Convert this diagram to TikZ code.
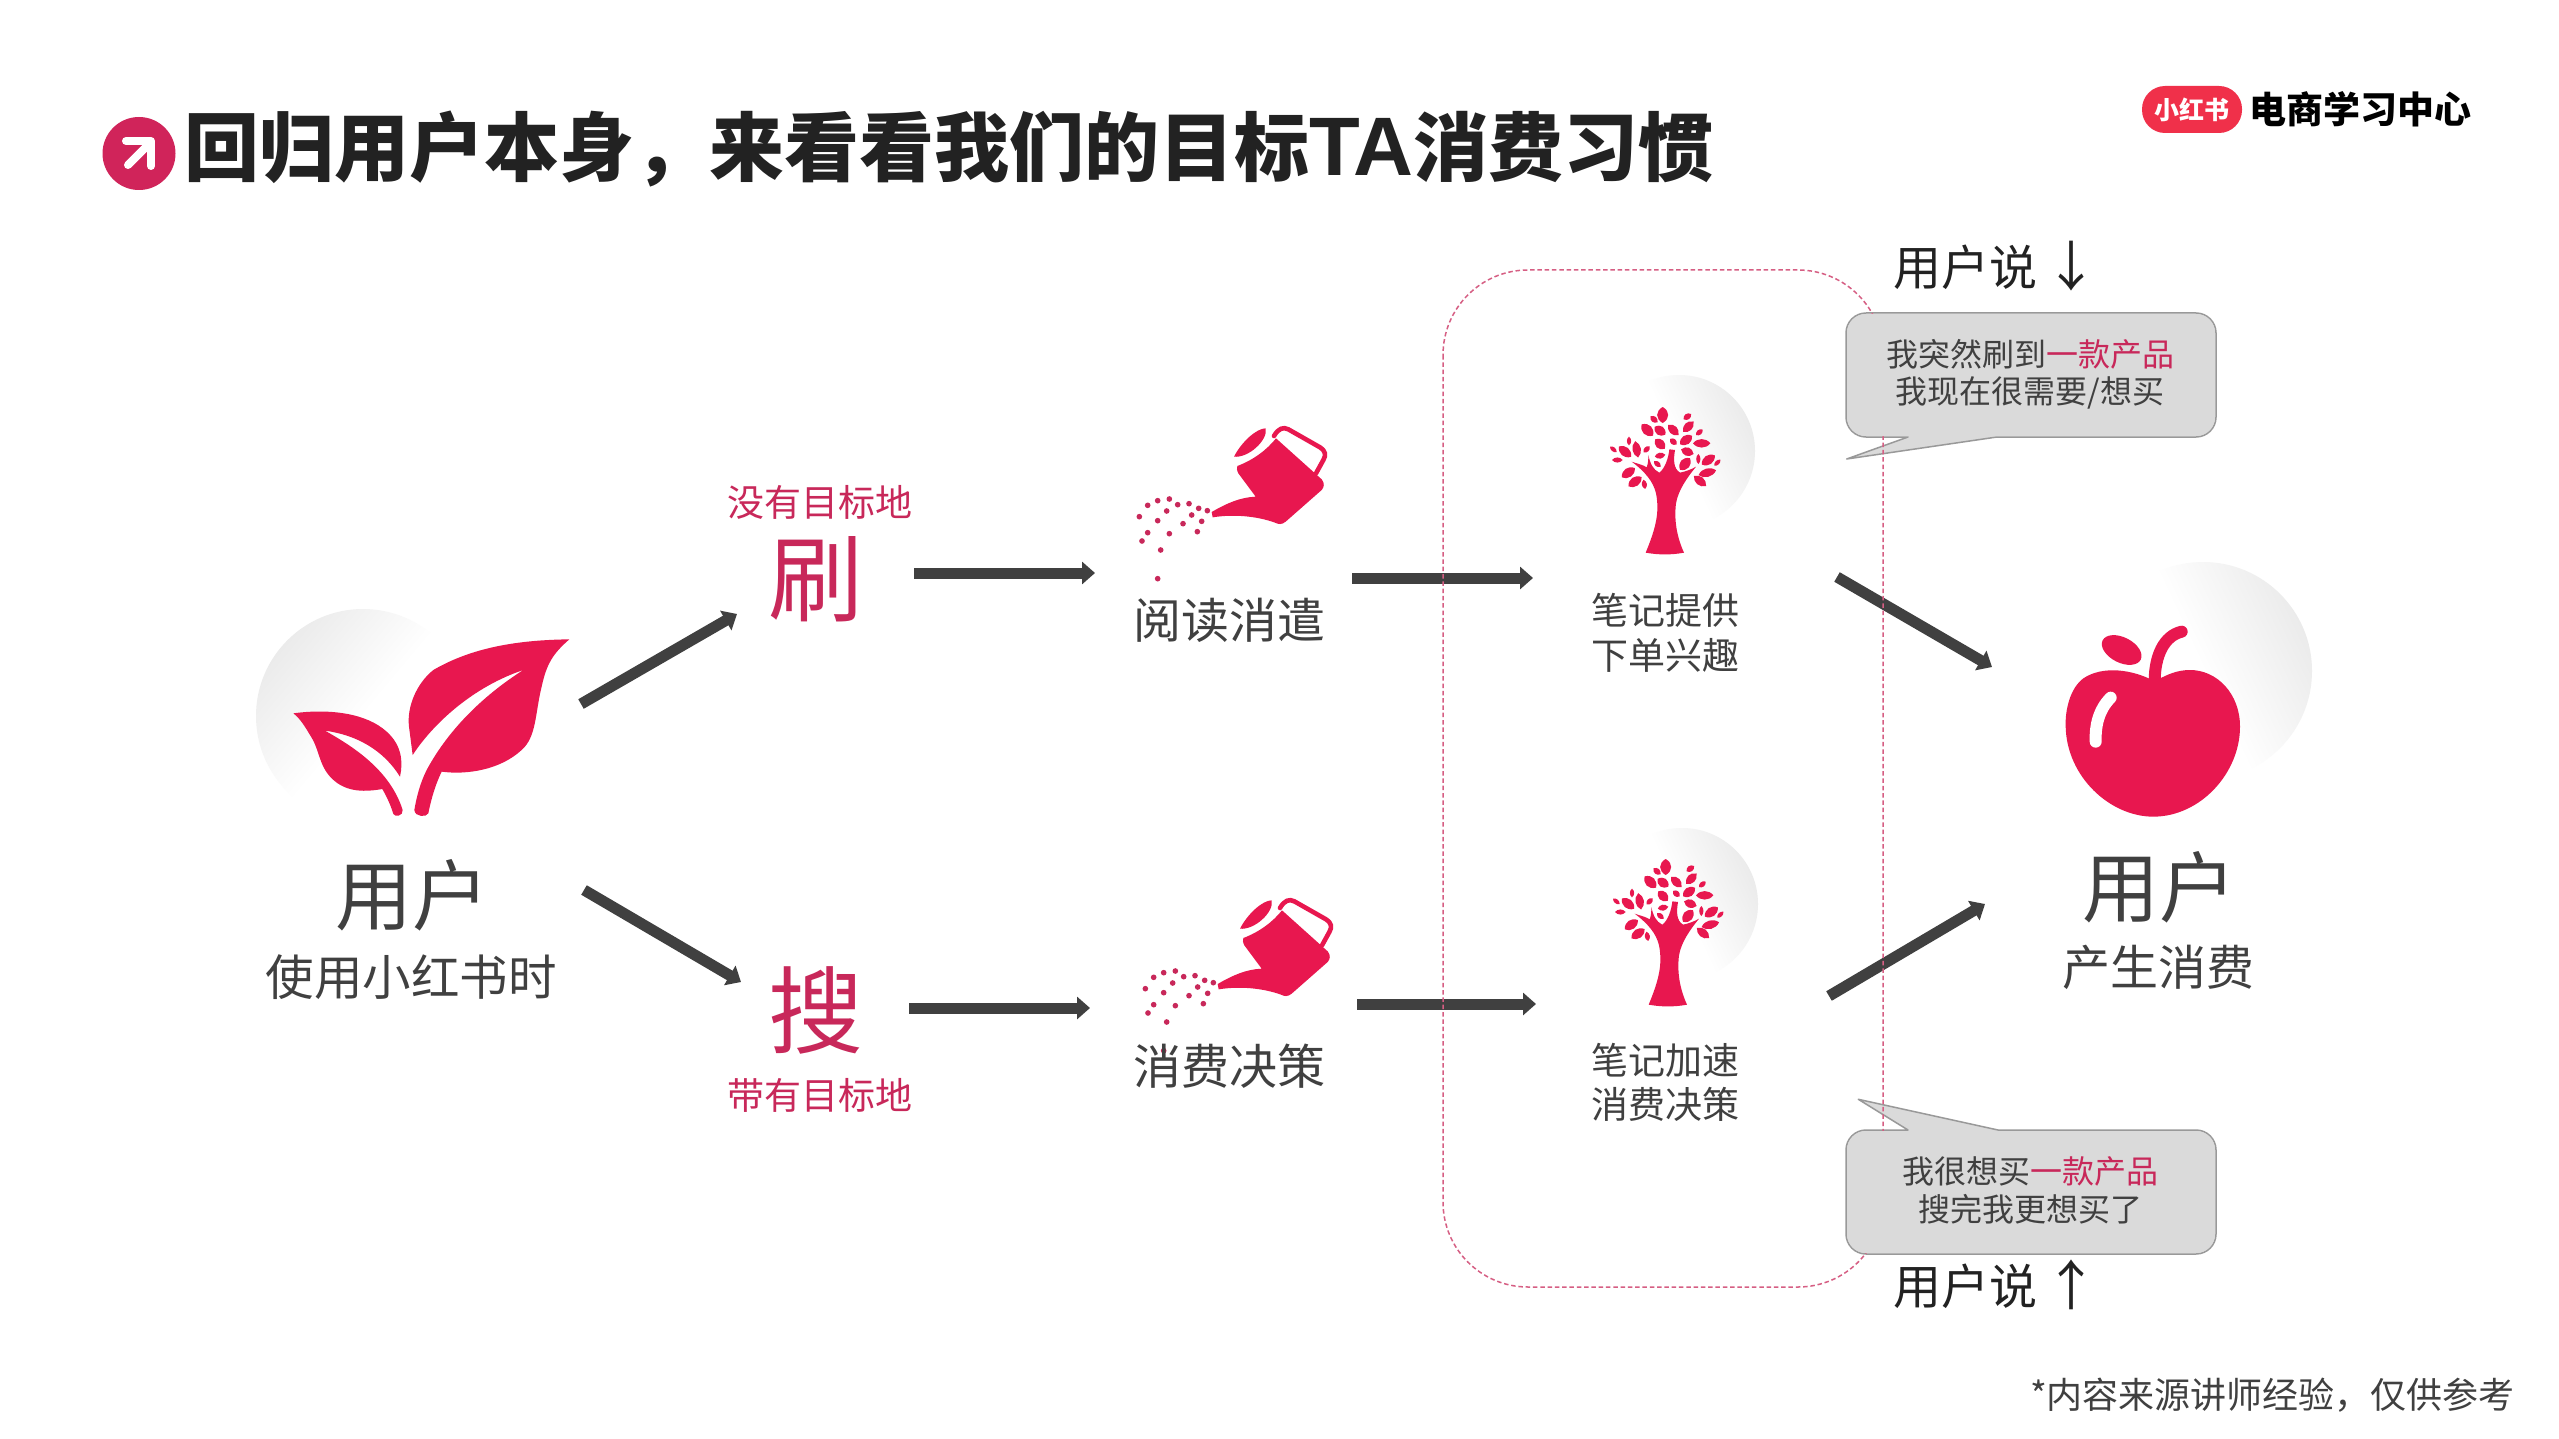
\documentclass[tikz,border=0pt]{standalone}
\usepackage{fontspec}
\setmainfont{Noto Sans CJK SC}
\newfontfamily\latinbold{Liberation Sans}
\usetikzlibrary{arrows.meta}
\definecolor{rosefill}{HTML}{E8174F}
\definecolor{rosetext}{HTML}{C8285A}
\definecolor{titlerose}{HTML}{D0245A}
\definecolor{inkdark}{HTML}{404040}
\definecolor{titleink}{HTML}{222222}
\definecolor{bubblefill}{HTML}{DADADA}
\definecolor{bubbleedge}{HTML}{999999}
\definecolor{disk}{HTML}{EBEBEB}
\definecolor{pill}{HTML}{F0304A}
\newcommand{\fsz}[1]{\fontsize{#1pt}{#1pt}\selectfont}
\tikzset{
  txt/.style={inner sep=0pt,outer sep=0pt,text=inkdark},
  pinktxt/.style={inner sep=0pt,outer sep=0pt,text=rosetext},
  bigarrow/.style={draw=inkdark,line width=11pt,-{Triangle[length=13pt,width=22pt]}},
  softdisk/.style={top color=disk,bottom color=white,middle color=white,shading angle=#1},
  dashbox/.style={draw=rosetext!75,line width=1.5pt,dash pattern=on 4.5pt off 2.8pt},
  bubble/.style={fill=bubblefill,draw=bubbleedge,line width=1.5pt,line join=round},
}
% watering can, drawn in 3x crop units from its crop origin
\newcommand{\wateringcan}[2]{%
\begin{scope}[shift={(#1,#2)},x=0.33333pt,y=-0.33333pt]
  \fill[rosefill] (342,140) .. controls (365,95) and (410,55) .. (437,55) .. controls (445,90) and (385,145) .. (342,140) -- cycle;
  \fill[rosefill] (352,168) .. controls (400,150) and (440,120) .. (468,85) -- (605,208) .. controls (615,220) and (612,232) .. (605,240) -- (497,335) .. controls (485,345) and (475,343) .. (465,338) .. controls (410,318) and (340,312) .. (278,322) -- (275,306) .. controls (320,280) and (360,262) .. (407,260) -- (355,190) .. controls (350,180) and (350,175) .. (352,168) -- cycle;
  \draw[rosefill,line width=4.6pt,line cap=round,line join=round] (462,78) .. controls (475,55) and (490,50) .. (505,58) -- (600,112) .. controls (618,125) and (618,135) .. (610,150) -- (588,190);
  \foreach \dx/\dy in {83/286,113/272,148/267,173/284,207/281,236/295,262/302,140/303,215/315,245/334,58/320,113/332,189/341,83/368,148/371,232/365,66/393,122/420,113/506}
    \fill[rosetext] (\dx,\dy) circle[radius=8.5];
\end{scope}}
% tree with foliage
\newcommand{\foliage}[2]{%
\begin{scope}[shift={(#1,#2)},x=0.33333pt,y=-0.33333pt]
  \fill[rosefill] (197,578) .. controls (225,510) and (240,460) .. (228,400) .. controls (220,365) and (195,335) .. (155,305) .. controls (175,312) and (190,315) .. (200,322) .. controls (205,310) and (205,295) .. (205,285) .. controls (210,310) and (220,330) .. (238,338) .. controls (255,325) and (265,295) .. (268,268) -- (285,270) .. controls (280,300) and (280,325) .. (300,338) .. controls (315,335) and (335,328) .. (348,320) .. controls (320,355) and (295,390) .. (288,430) .. controls (282,480) and (290,530) .. (312,578) .. controls (275,585) and (235,585) .. (197,578) -- cycle;
  \foreach \cx/\cy/\ang/\hl/\hw in {248/165/90/24/13,222/178/-40/14/7,322/170/35/14/7,202/210/-45/24/12,240/212/-35/20/11,280/210/-45/22/10,325/200/45/22/10,358/217/40/13/6,318/240/35/22/11,365/250/0/26/10,280/245/-40/13/7,240/252/-45/20/11,322/275/-20/20/10,135/275/-40/24/11,170/268/-80/25/10,200/268/45/13/6,147/243/90/13/5,100/268/-40/13/5,112/300/0/16/6,240/287/10/16/7,232/312/-40/13/6,145/338/35/24/11,165/365/35/24/11,193/373/-80/14/6,315/312/50/23/12,355/297/-90/15/5,385/300/35/24/11,412/308/45/13/5,382/338/15/27/10,360/363/-40/24/10}
    \fill[rosefill,shift={(\cx,\cy)},rotate=\ang] (-\hl,0) .. controls (-\hl/2,\hw*1.7) and (\hl/2,\hw*1.7) .. (\hl,0) .. controls (\hl/2,-\hw*1.7) and (-\hl/2,-\hw*1.7) .. (-\hl,0) -- cycle;
\end{scope}}
\begin{document}
\begin{tikzpicture}[x=1pt,y=-1pt]
\useasboundingbox (0,0) rectangle (2559,1439);
\fill[white] (0,0) rectangle (2559,1439);

% title
\fill[titlerose] (139,153.5) circle[radius=36.5];
\draw[white,line width=8pt,line cap=round,line join=round] (126,141) -- (151,141) -- (151,166);
\draw[white,line width=8pt,line cap=round] (128,165) -- (149,144);
\node[inner sep=0pt,anchor=west,text=titleink] (title) at (184,149) {\fsz{75}\bfseries 回归用户本身，来看看我们的目标{\latinbold\fsz{83}TA}消费习惯};

% logo
\node[fill=pill,rounded corners=23pt,minimum width=100pt,minimum height=47pt,inner sep=0pt,text=white] (logo) at (2192,109.5) {\fsz{25}\bfseries 小红书};
\node[inner sep=0pt,anchor=west,text=black] (logotext) at (2249,109) {\fsz{37}\bfseries 电商学习中心};

% background disks
\shade[softdisk=50] (363,716) circle[radius=107];
\shade[softdisk=-65] (1679,451) circle[radius=76];
\shade[softdisk=-65] (1682,904) circle[radius=76];
\shade[softdisk=-65] (2203,671) circle[radius=109];

% sprout icon
\begin{scope}[shift={(220,580)},x=0.33333pt,y=-0.33333pt]
  \fill[rosefill] (1048,178) .. controls (900,180) and (760,200) .. (640,270) .. controls (590,310) and (560,380) .. (567,440) -- (578,525) .. controls (640,430) and (760,320) .. (910,270) .. controls (800,340) and (690,440) .. (620,570) .. controls (600,610) and (590,650) .. (583,690) .. controls (585,712) and (620,712) .. (625,700) .. controls (635,650) and (648,610) .. (665,575) .. controls (740,585) and (840,570) .. (905,510) .. controls (950,470) and (945,400) .. (965,320) .. controls (980,250) and (1000,220) .. (1048,178) -- cycle;
  \fill[rosefill] (220,400) .. controls (330,385) and (440,400) .. (500,455) .. controls (545,495) and (550,545) .. (540,590) .. controls (490,510) and (410,465) .. (315,452) .. controls (400,500) and (510,570) .. (548,690) .. controls (550,708) and (525,712) .. (520,702) .. controls (512,675) and (500,650) .. (487,627) .. controls (440,635) and (380,640) .. (335,595) .. controls (295,555) and (300,510) .. (270,465) .. controls (255,440) and (240,415) .. (220,400) -- cycle;
\end{scope}

\wateringcan{1120}{410}
\wateringcan{1126}{882}
\foliage{1580}{360}
\foliage{1583}{812}

% apple icon
\begin{scope}[shift={(2020,550)},x=0.33333pt,y=-0.33333pt]
  \fill[rosefill] (400,392) .. controls (340,360) and (250,345) .. (190,385) .. controls (150,415) and (135,480) .. (137,530) .. controls (140,680) and (270,800) .. (400,800) .. controls (540,800) and (660,670) .. (660,530) .. controls (660,430) and (590,360) .. (510,360) .. controls (470,360) and (440,375) .. (415,388) -- cycle;
  \draw[rosefill,line width=12pt,line cap=round] (404,390) .. controls (405,320) and (430,258) .. (485,245);
  \fill[rosefill,rotate around={-27:(305,300)}] (305,300) ellipse[x radius=64,y radius=38];
  \draw[white,line width=12pt,line cap=round] (272,443) .. controls (235,480) and (225,530) .. (227,575);
\end{scope}

% connectors
\coordinate (a1s) at (581,704); \coordinate (a1e) at (737,614);
\coordinate (a2s) at (584,890); \coordinate (a2e) at (741,982);
\coordinate (a3s) at (914,573); \coordinate (a3e) at (1095,573);
\coordinate (a4s) at (909,1008); \coordinate (a4e) at (1090,1008);
\coordinate (a5s) at (1352,578); \coordinate (a5e) at (1533,578);
\coordinate (a6s) at (1357,1004); \coordinate (a6e) at (1536,1004);
\coordinate (a7s) at (1837,577); \coordinate (a7e) at (1992,667);
\coordinate (a8s) at (1829,996); \coordinate (a8e) at (1985,904);
\foreach \n in {1,...,8} \draw[bigarrow] (a\n s) -- (a\n e);

% dashed enclosure and speech bubbles
\path[bubble,rounded corners=20pt] (1846,375) -- (1846,313) -- (2216,313) -- (2216,437) -- (2050,437) [sharp corners] -- (1997,437) -- (1846.7,459) -- (1908,437) -- (1885,437) [rounded corners=20pt] -- (1846,437) -- cycle;
\path[bubble,rounded corners=20pt] (1846,1190) -- (1846,1130) -- (1885,1130) [sharp corners] -- (1908,1130) -- (1858.3,1099.3) -- (1998,1130) -- (2050,1130) [rounded corners=20pt] -- (2216,1130) -- (2216,1254) -- (1846,1254) -- cycle;
\draw[dashbox,rounded corners=85pt] (1443,270) rectangle (1883,1287);
\fill[bubblefill,rounded corners=19pt] (1847,314) rectangle (2215,436);
\fill[bubblefill,rounded corners=19pt] (1847,1131) rectangle (2215,1253);

% bubble texts
\node[txt] (say1a) at (2030,354) {\fsz{32}我突然刷到\textcolor{rosetext}{一款产品}};
\node[txt] (say1b) at (2030,393) {\fsz{32}我现在很需要/想买};
\node[txt] (say2a) at (2030,1171) {\fsz{32}我很想买\textcolor{rosetext}{一款产品}};
\node[txt] (say2b) at (2030,1209) {\fsz{32}搜完我更想买了};
\node[inner sep=0pt,anchor=west,text=titleink] (usr1) at (1893,267) {\fsz{48}用户说};
\node[inner sep=0pt,text=titleink] (usr1arrow) at (2071,266) {\fsz{54}↓};
\node[inner sep=0pt,anchor=west,text=titleink] (usr2) at (1893,1286) {\fsz{48}用户说};
\node[inner sep=0pt,text=titleink] (usr2arrow) at (2071,1285) {\fsz{54}↑};

% labels
\node[txt] (user) at (412,895) {\fsz{77}用户};
\node[txt] (usersub) at (411,977) {\fsz{48.5}使用小红书时};
\node[pinktxt] (nogoal) at (820,502) {\fsz{37}没有目标地};
\node[pinktxt] (shua) at (816,579) {\fsz{95}刷};
\node[pinktxt] (sou) at (816,1010) {\fsz{95}搜};
\node[pinktxt] (goal) at (820,1095) {\fsz{37}带有目标地};
\node[txt] (read) at (1229,620) {\fsz{48}阅读消遣};
\node[txt] (decide) at (1229,1066) {\fsz{48}消费决策};
\node[txt] (noteA1) at (1665,610) {\fsz{37}笔记提供};
\node[txt] (noteA2) at (1665,655) {\fsz{37}下单兴趣};
\node[txt] (noteB1) at (1665,1060) {\fsz{37}笔记加速};
\node[txt] (noteB2) at (1665,1104) {\fsz{37}消费决策};
\node[txt] (buyer) at (2159,887) {\fsz{77}用户};
\node[txt] (buyersub) at (2158,967) {\fsz{48}产生消费};
\node[inner sep=0pt,anchor=east,text=inkdark] (source) at (2515,1395) {\fsz{36}*内容来源讲师经验，仅供参考};
\end{tikzpicture}
\end{document}
